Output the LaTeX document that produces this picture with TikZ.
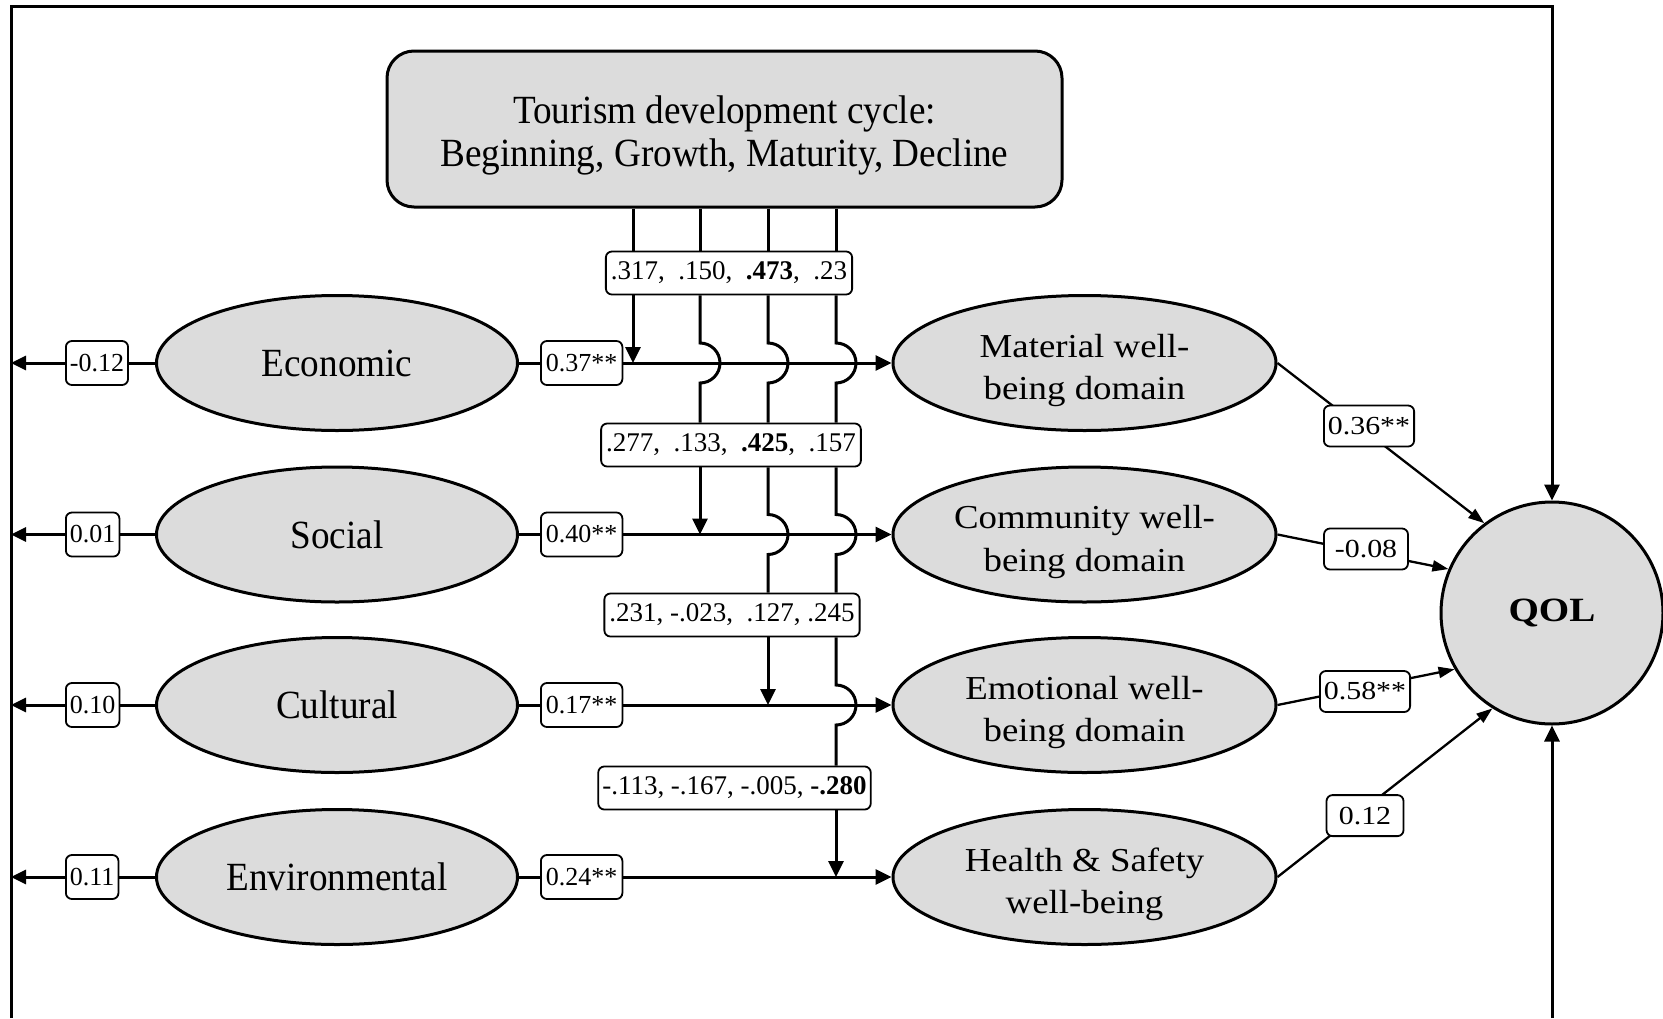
\documentclass[tikz,border=0pt]{standalone}
\usepackage{fontspec}
\setmainfont{Liberation Serif}
\newfontfamily\condfont[FakeStretch=0.93]{Liberation Serif}
\newfontfamily\widefont[FakeStretch=1.1]{Liberation Serif}
\newfontfamily\qfont[FakeStretch=1.15]{Liberation Serif}
\usetikzlibrary{shapes.geometric,arrows.meta,calc}
\definecolor{nodegray}{RGB}{220,220,220}
\begin{document}
\begin{tikzpicture}[x=1pt,y=-1pt,
  ln/.style={line width=3pt},
  arr/.style={ln,-{Triangle[length=16pt,width=15pt]}},
  thinarr/.style={line width=2.3pt,-{Triangle[length=16pt,width=11pt]}},
  lell/.style={ellipse,draw,line width=3pt,fill=nodegray,minimum width=361pt,minimum height=135pt,inner sep=0pt,font=\condfont\fontsize{40}{44}\selectfont},
  rell/.style={ellipse,draw,line width=3pt,fill=nodegray,minimum width=383pt,minimum height=135pt,inner sep=0pt},
  rtxt/.style={align=center,inner sep=0pt,font=\widefont\fontsize{33.5}{42.5}\selectfont},
  lbl/.style={draw,fill=white,rounded corners=6pt,line width=1.8pt,inner xsep=4pt,inner ysep=0pt,minimum height=44pt,font=\fontsize{26}{30}\selectfont},
  mlbl/.style={lbl,minimum height=43pt,inner xsep=5pt,font=\fontsize{27}{30}\selectfont},
  qlbl/.style={lbl,minimum width=77pt,minimum height=41pt,font=\qfont\fontsize{26}{30}\selectfont},
]
\useasboundingbox (0,0) rectangle (1663,1018);

% frame coordinates
\coordinate (fbl) at (11,1018);
\coordinate (ftl) at (11,6);
\coordinate (ftr) at (1552,6);
\coordinate (fbr) at (1552,1018);
\coordinate (v1) at (633,0);
\coordinate (v2) at (700,0);
\coordinate (v3) at (768,0);
\coordinate (v4) at (836,0);

% top box
\node[draw,fill=nodegray,rounded corners=27pt,line width=3pt,minimum width=675pt,minimum height=156pt] (tdc) at (724.5,129) {};
\node[align=center,inner sep=0pt,font=\condfont\fontsize{40}{43.5}\selectfont] (tdctext) at (724.5,135.5) {Tourism development cycle:\\Beginning, Growth, Maturity, Decline};

% left ellipses
\node[lell] (eco) at (337,363) {Economic};
\node[lell] (soc) at (337,534.5) {Social};
\node[lell] (cul) at (337,705) {Cultural};
\node[lell] (env) at (337,877) {Environmental};

% right ellipses
\node[rell] (mat) at (1084.5,363) {};
\node[rtxt] (matT) at (1084.5,370.5) {Material well-\\being domain};
\node[rell] (com) at (1084.5,534.5) {};
\node[rtxt] (comT) at (1084.5,542) {Community well-\\being domain};
\node[rell] (emo) at (1084.5,705) {};
\node[rtxt] (emoT) at (1084.5,712.5) {Emotional well-\\being domain};
\node[rell] (hea) at (1084.5,877) {};
\node[rtxt] (heaT) at (1084.5,884.5) {Health \& Safety\\well-being};

% QOL
\node[circle,draw,line width=3pt,fill=nodegray,minimum size=222pt,inner sep=0pt,font=\qfont\bfseries\fontsize{34}{40}\selectfont] (qol) at (1552,613) {QOL};

% left labels
\node[lbl,anchor=west] (le1) at (65,363) {-0.12};
\node[lbl,anchor=west] (le2) at (65,534.5) {0.01};
\node[lbl,anchor=west] (le3) at (65,705) {0.10};
\node[lbl,anchor=west] (le4) at (65,877) {0.11};

% outgoing labels
\node[lbl,anchor=west,inner xsep=5pt] (o1) at (540,363) {0.37**};
\node[lbl,anchor=west,inner xsep=5pt] (o2) at (540,534.5) {0.40**};
\node[lbl,anchor=west,inner xsep=5pt] (o3) at (540,705) {0.17**};
\node[lbl,anchor=west,inner xsep=5pt] (o4) at (540,877) {0.24**};

% moderator labels
\node[mlbl] (m1) at (729,273) {.317,\ \ .150,\ \ \textbf{.473},\ \ .23};
\node[mlbl] (m2) at (731,445) {.277,\ \ .133,\ \ \textbf{.425},\ \ .157};
\node[mlbl] (m3) at (732,615) {.231, -.023,\ \ .127, .245};
\node[mlbl,inner xsep=4pt] (m4) at (734.5,788) {-.113, -.167, -.005, \textbf{-.280}};

% frame
\draw[arr] (fbl) -- (ftl) -- (ftr) -- (qol.north);
\draw[arr] (fbr) -- (qol.south);

% left connectors
\foreach \e/\l in {eco/le1,soc/le2,cul/le3,env/le4}{
  \draw[ln] (\e.west) -- (\l.east);
  \draw[ln,-{Triangle[length=15pt,width=14pt]}] (\l.west) -- (\e -| fbl);
}

% right connectors
\foreach \e/\l/\r in {eco/o1/mat,soc/o2/com,cul/o3/emo,env/o4/hea}{
  \draw[ln] (\e.east) -- (\l.west);
  \draw[arr] (\l.east) -- (\r.west);
}

% moderator line 1
\draw[ln] (tdc.south -| v1) -- (m1.north -| v1);
\draw[arr] (m1.south -| v1) -- (eco -| v1);
% line 2
\draw[ln] (tdc.south -| v2) -- (m1.north -| v2);
\draw[ln] (m1.south -| v2) -- ($(eco -| v2)+(0,-20)$) arc[start angle=90,end angle=-90,radius=20pt] -- (m2.north -| v2);
\draw[arr] (m2.south -| v2) -- (soc -| v2);
% line 3
\draw[ln] (tdc.south -| v3) -- (m1.north -| v3);
\draw[ln] (m1.south -| v3) -- ($(eco -| v3)+(0,-20)$) arc[start angle=90,end angle=-90,radius=20pt] -- (m2.north -| v3);
\draw[ln] (m2.south -| v3) -- ($(soc -| v3)+(0,-20)$) arc[start angle=90,end angle=-90,radius=20pt] -- (m3.north -| v3);
\draw[arr] (m3.south -| v3) -- (cul -| v3);
% line 4
\draw[ln] (tdc.south -| v4) -- (m1.north -| v4);
\draw[ln] (m1.south -| v4) -- ($(eco -| v4)+(0,-20)$) arc[start angle=90,end angle=-90,radius=20pt] -- (m2.north -| v4);
\draw[ln] (m2.south -| v4) -- ($(soc -| v4)+(0,-20)$) arc[start angle=90,end angle=-90,radius=20pt] -- (m3.north -| v4);
\draw[ln] (m3.south -| v4) -- ($(cul -| v4)+(0,-20)$) arc[start angle=90,end angle=-90,radius=20pt] -- (m4.north -| v4);
\draw[arr] (m4.south -| v4) -- (env -| v4);

% QOL paths
\draw[thinarr] (mat.east) -- (qol.127);
\draw[thinarr] (com.east) -- (qol.157);
\draw[thinarr] (emo.east) -- (qol.210);
\draw[thinarr] (hea.east) -- (qol.238);
\node[qlbl] (q1) at (1369,426) {0.36**};
\node[qlbl,minimum width=84pt] (q2) at (1366,549) {-0.08};
\node[qlbl] (q3) at (1365,691.5) {0.58**};
\node[qlbl] (q4) at (1365,815.6) {0.12};
\end{tikzpicture}
\end{document}
